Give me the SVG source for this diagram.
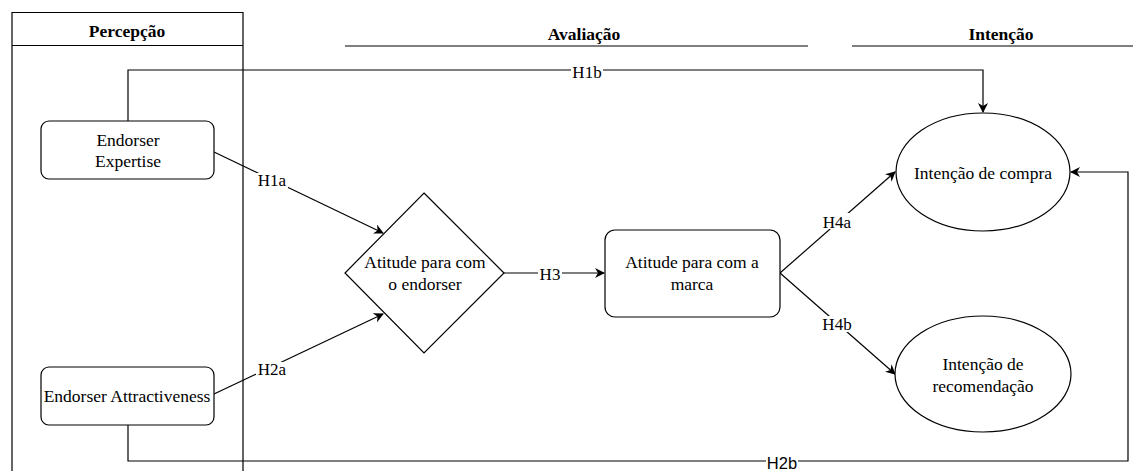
<svg xmlns="http://www.w3.org/2000/svg" width="1133" height="471" viewBox="0 0 1133 471">
<defs>
<style>
.s{fill:#fff;stroke:#000;stroke-width:1.2}
.t{font-family:'Liberation Serif','DejaVu Serif',serif;font-size:17.5px;fill:#000;text-anchor:middle}
.h{font-family:'Liberation Serif','DejaVu Serif',serif;font-size:17.5px;font-weight:bold;fill:#000;text-anchor:middle}
.c{fill:none;stroke:#000;stroke-width:1.2}
.lb{font-family:'Liberation Serif','DejaVu Serif',serif;font-size:17px;fill:#000;text-anchor:middle}
.ls{font-family:'Liberation Sans',Arial,sans-serif;font-size:16.5px;fill:#000;text-anchor:middle}
</style>
<marker id="a" viewBox="0 0 10 10" refX="9" refY="5" markerWidth="10" markerHeight="10" markerUnits="userSpaceOnUse" orient="auto">
<path d="M0,0 L10,5 L0,10 L3,5 Z" fill="#000"/>
</marker>
</defs>
<rect width="1133" height="471" fill="#fff"/>
<g id="lane-percepcao">
<path d="M12,480 V12.5 H243 V480" fill="none" stroke="#000" stroke-width="1.2"/>
<line x1="12" y1="45.5" x2="243" y2="45.5" stroke="#000" stroke-width="1.2"/>
<text class="h" x="127" y="37">Percepção</text>
</g>
<g id="lane-avaliacao">
<line x1="345" y1="46" x2="808" y2="46" stroke="#555" stroke-width="1.6"/>
<text class="h" x="584" y="40">Avaliação</text>
</g>
<g id="lane-intencao">
<line x1="852" y1="46" x2="1133" y2="46" stroke="#555" stroke-width="1.6"/>
<text class="h" x="1001" y="40">Intenção</text>
</g>
<g id="connectors">
<path class="c" d="M128,121 V70 H983 V112" marker-end="url(#a)"/>
<path class="c" d="M128,425 V461 H1128 V172 H1071" marker-end="url(#a)"/>
<path class="c" d="M214,152 L383,233" marker-end="url(#a)"/>
<path class="c" d="M214,394 L383,314" marker-end="url(#a)"/>
<path class="c" d="M504,273 L604,273" marker-end="url(#a)"/>
<path class="c" d="M780,273 L895,172" marker-end="url(#a)"/>
<path class="c" d="M780,273 L895,374" marker-end="url(#a)"/>
<rect x="571" y="64" width="32" height="15" fill="#fff"/>
<text class="lb" x="587" y="78">H1b</text>
<rect x="256" y="173" width="32" height="16" fill="#fff"/>
<text class="lb" x="272" y="186">H1a</text>
<rect x="256" y="362" width="32" height="16" fill="#fff"/>
<text class="lb" x="272" y="375">H2a</text>
<rect x="538" y="266" width="24" height="15" fill="#fff"/>
<text class="lb" x="550" y="280">H3</text>
<rect x="821" y="213" width="32" height="16" fill="#fff"/>
<text class="lb" x="837" y="228">H4a</text>
<rect x="821" y="316" width="32" height="16" fill="#fff"/>
<text class="lb" x="837" y="330">H4b</text>
<rect x="766" y="455" width="32" height="14" fill="#fff"/>
<text class="ls" x="782" y="469">H2b</text>
</g>
<g id="node-expertise">
<rect class="s" x="41" y="121" width="173" height="58" rx="8"/>
<text class="t" x="128" y="146">Endorser</text>
<text class="t" x="128" y="167">Expertise</text>
</g>
<g id="node-attractiveness">
<rect class="s" x="41" y="367" width="173" height="58" rx="8"/>
<text class="t" x="127" y="402">Endorser Attractiveness</text>
</g>
<g id="node-atitude-endorser">
<path class="s" d="M424,193 L504,273 L424,353 L345,273 Z"/>
<text class="t" x="425" y="268">Atitude para com</text>
<text class="t" x="425" y="290">o endorser</text>
</g>
<g id="node-atitude-marca">
<rect class="s" x="605" y="230" width="175" height="87" rx="10"/>
<text class="t" x="692" y="268">Atitude para com a</text>
<text class="t" x="692" y="290">marca</text>
</g>
<g id="node-compra">
<ellipse class="s" cx="983" cy="172" rx="87" ry="59"/>
<text class="t" x="983" y="179">Intenção de compra</text>
</g>
<g id="node-recomendacao">
<ellipse class="s" cx="983" cy="374" rx="88" ry="58"/>
<text class="t" x="983" y="370">Intenção de</text>
<text class="t" x="983" y="392">recomendação</text>
</g>
</svg>
